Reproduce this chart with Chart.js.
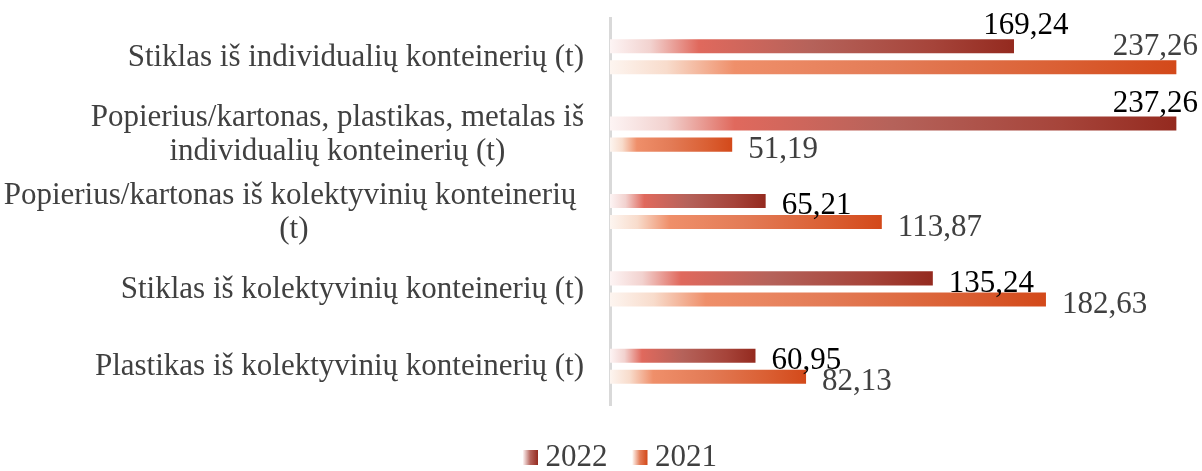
<!DOCTYPE html>
<html>
<head>
<meta charset="utf-8">
<script src="https://cdn.jsdelivr.net/npm/chart.js@4.4.1/dist/chart.umd.min.js"></script>
<style>
    html, body { margin: 0; padding: 0; background: #fff; }
    #wrap { width: 1202px; height: 471px; position: relative; }
</style>
</head>
<body>
<div id="wrap"><canvas id="atliekosChart"></canvas></div>
<script>
//kategorijos (eilutėmis, kaip originale)
const kategorijos = [
    ['Stiklas iš individualių konteinerių (t)'],
    ['Popierius/kartonas, plastikas, metalas iš', 'individualių konteinerių (t)'],
    ['Popierius/kartonas iš kolektyvinių konteinerių ', '(t)'],
    ['Stiklas iš kolektyvinių konteinerių (t)'],
    ['Plastikas iš kolektyvinių konteinerių (t)']
];
const metai = ['2022', '2021'];
const kiekiai2022 = [169.24, 237.26, 65.21, 135.24, 60.95];
const kiekiai2021 = [237.26, 51.19, 113.87, 182.63, 82.13];

const SRIFTAS = '"Liberation Serif", "Times New Roman", serif';

//gradiento spalvos
const spalvos2022 = [[0, '#fdf4f4'], [0.1, '#f2d2cf'], [0.22, '#e0695d'], [0.5, '#b5625a'], [0.8, '#a6443a'], [1, '#942a1f']];
const spalvos2021 = [[0, '#fdf5f0'], [0.1, '#f8dccc'], [0.22, '#ef8f6a'], [0.5, '#e37b56'], [0.8, '#da5f33'], [1, '#d3491a']];

function gradientas(stops) {
    return (c) => {
        const chart = c.chart;
        if (c.type !== 'data' || !chart.chartArea) return stops[3][1];
        const x = chart.scales.x;
        const x0 = x.getPixelForValue(0);
        const x1 = Math.max(x.getPixelForValue(c.raw), x0 + 1);
        const g = chart.ctx.createLinearGradient(x0, 0, x1, 0);
        stops.forEach(([p, col]) => g.addColorStop(p, col));
        return g;
    };
}

//kategorijų pavadinimai kairėje
const kategorijuTekstai = {
    id: 'kategorijuTekstai',
    afterDraw(chart, args, opts) {
        const ctx = chart.ctx;
        const y = chart.scales.y;
        const desine = chart.chartArea.left - 26;
        ctx.save();
        ctx.font = '31px ' + SRIFTAS;
        ctx.fillStyle = '#404040';
        ctx.textAlign = 'center';
        ctx.textBaseline = 'alphabetic';
        chart.data.labels.forEach((eil, i) => {
            const cy = y.getPixelForValue(i);
            const plotis = Math.max(...eil.map(t => ctx.measureText(t).width));
            const cx = desine - plotis / 2;
            eil.forEach((t, k) => {
                const by = cy + 9 + (k - (eil.length - 1) / 2) * 34;
                ctx.fillText(t, cx, by);
            });
        });
        ctx.restore();
    }
};

//reikšmių etiketės prie stulpelių
const reiksmes = {
    id: 'reiksmes',
    afterDatasetsDraw(chart, args, opts) {
        const ctx = chart.ctx;
        ctx.save();
        ctx.font = '31px ' + SRIFTAS;
        ctx.textAlign = 'left';
        ctx.textBaseline = 'alphabetic';
        chart.data.datasets.forEach((ds, di) => {
            chart.getDatasetMeta(di).data.forEach((bar, i) => {
                const txt = ds.data[i].toFixed(2).replace('.', ',');
                const w = ctx.measureText(txt).width;
                let x = bar.x + 16;
                let by = bar.y + 13.5;
                if (opts.virsuje.includes(di + '-' + i)) {
                    x = Math.min(bar.x + 12 - w / 2, chart.width - 4 - w);
                    by = bar.y - 12;
                }
                ctx.fillStyle = opts.spalvos[di];
                ctx.fillText(txt, x, by);
            });
        });
        ctx.restore();
    }
};

//legendos kvadratėliai su gradientu
const legendosKvadratai = {
    id: 'legendosKvadratai',
    afterDraw(chart) {
        const lg = chart.legend;
        if (!lg || !lg.legendHitBoxes) return;
        const ctx = chart.ctx;
        [spalvos2022, spalvos2021].forEach((stops, i) => {
            const hb = lg.legendHitBoxes[i];
            if (!hb) return;
            const x0 = hb.left, y0 = hb.top + 8;
            ctx.save();
            ctx.fillStyle = '#fff';
            ctx.fillRect(x0, y0, 15, 15);
            const g = ctx.createLinearGradient(x0, 0, x0 + 15, 0);
            g.addColorStop(0, stops[0][1]);
            g.addColorStop(0.5, stops[3][1]);
            g.addColorStop(1, stops[5][1]);
            ctx.fillStyle = g;
            ctx.fillRect(x0, y0, 15, 15);
            ctx.restore();
        });
    }
};

new Chart(document.getElementById('atliekosChart'), {
    type: 'bar',
    data: {
        labels: kategorijos,
        datasets: [{
            label: metai[0],
            data: kiekiai2022,
            backgroundColor: gradientas(spalvos2022),
            borderWidth: 0
        }, {
            label: metai[1],
            data: kiekiai2021,
            backgroundColor: gradientas(spalvos2021),
            borderWidth: 0
        }]
    },
    options: {
        indexAxis: 'y',
        responsive: true,
        maintainAspectRatio: false,
        animation: false,
        categoryPercentage: 0.544,
        barPercentage: 0.667,
        layout: {
            padding: { left: 38, right: 0, top: 18, bottom: 0 }
        },
        scales: {
            x: {
                min: 0,
                max: 248,
                grid: { display: false },
                border: { display: false },
                ticks: { display: false },
                afterFit: (s) => { s.height = 12; }
            },
            y: {
                grid: { display: false },
                border: { display: true, color: '#d9d9d9', width: 3 },
                ticks: { display: false },
                afterFit: (s) => { s.width = 610 - 38; }
            }
        },
        plugins: {
            legend: {
                position: 'bottom',
                maxHeight: 54,
                labels: {
                    boxWidth: 7,
                    boxHeight: 15,
                    padding: 25,
                    color: '#404040',
                    font: { family: SRIFTAS, size: 31 }
                }
            },
            tooltip: { enabled: false },
            reiksmes: {
                spalvos: ['#000000', '#404040'],
                virsuje: ['0-0', '0-1', '1-0']
            }
        }
    },
    plugins: [reiksmes, kategorijuTekstai, legendosKvadratai]
});
</script>
</body>
</html>
